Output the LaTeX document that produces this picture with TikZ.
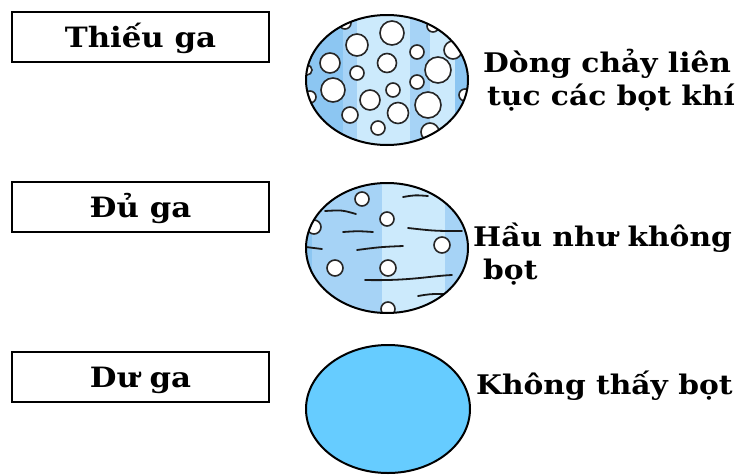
\documentclass[tikz,border=0pt]{standalone}
\usepackage{fontspec}
\newfontfamily\labelfont[FakeStretch=1.1]{DejaVu Serif}
\definecolor{bluedeep}{RGB}{140,198,242}
\definecolor{bluemid}{RGB}{166,211,246}
\definecolor{bluepale}{RGB}{204,234,252}
\definecolor{bluesolid}{RGB}{102,204,255}
\tikzset{
  titlebox/.style={draw=black, line width=2.4pt, fill=white,
    minimum width=257pt, minimum height=50pt, inner sep=0pt,
    text height=21pt, text depth=0pt,
    font=\labelfont\bfseries\fontsize{28}{32}\selectfont},
  caption/.style={font=\labelfont\bfseries\fontsize{27}{33}\selectfont,
    align=left, inner sep=0pt, anchor=west},
  rim/.style={draw=black, line width=2pt},
  bubble/.style={draw=black!85, line width=1.6pt, fill=white},
  streak/.style={draw=black!90, line width=1.8pt, line cap=round}
}
\begin{document}
\begin{tikzpicture}[x=1pt,y=-1pt]
\useasboundingbox (0,0) rectangle (739,474);

% level boxes
\node[titlebox] (thieu) at (140.5,37) {Thiếu ga};
\node[titlebox] (du)    at (140.5,207) {Đủ ga};
\node[titlebox] (duga)  at (140.5,377) {Dư ga};

% sight glass: continuous bubble flow
\begin{scope}
  \clip (387,80) ellipse [x radius=81, y radius=65];
  \fill[bluepale] (300,10) rectangle (475,150);
  \fill[bluedeep] (300,10) rectangle (343,150);
  \fill[bluemid]  (343,10) rectangle (357,150);
  \fill[bluemid]  (410,10) rectangle (430,150);
  \fill[bluedeep] (455,10) rectangle (475,150);
  \foreach \cx/\cy/\r in {392/33/12, 357/45/11, 417/52/7, 330/63/10,
      387/63/9.5, 357/73/7, 438/70/13, 453/50/9, 417/82/7, 393/90/7,
      333/90/12, 370/100/10, 428/105/13, 350/115/8, 398/113/10.5,
      378/128/7, 430/132/9, 310/97/6, 307/70/5, 433/26/6, 345/23/6,
      465/95/6}
    \path[bubble] (\cx,\cy) circle [radius=\r];
\end{scope}
\draw[rim] (387,80) ellipse [x radius=81, y radius=65];

% sight glass: almost no bubbles
\begin{scope}
  \clip (387,248) ellipse [x radius=81, y radius=65];
  \fill[bluepale] (300,180) rectangle (475,320);
  \fill[bluemid]  (300,180) rectangle (382,320);
  \fill[bluedeep] (300,180) rectangle (312,320);
  \fill[bluemid]  (445,180) rectangle (475,320);
  \foreach \cx/\cy/\r in {362/199/7, 387/219/7, 314/227/7, 442/245/8,
      335/268/8, 388/268/8, 388/309/7}
    \path[bubble] (\cx,\cy) circle [radius=\r];
  \path[streak] (403,197) .. controls (415,195) .. (428,196);
  \path[streak] (325,211) .. controls (342,210) .. (356,214);
  \path[streak] (343,232) .. controls (358,231) .. (373,232);
  \path[streak] (408,228) .. controls (435,231) .. (462,231);
  \path[streak] (306,247) .. controls (314,248) .. (322,249);
  \path[streak] (357,250) .. controls (380,247) .. (403,246);
  \path[streak] (365,280) .. controls (410,281) and (430,276) .. (452,275);
  \path[streak] (418,296) .. controls (430,294) .. (444,294);
\end{scope}
\draw[rim] (387,248) ellipse [x radius=81, y radius=65];

% sight glass: full of liquid
\draw[rim, fill=bluesolid] (388,409) ellipse [x radius=82, y radius=64];

% captions
\node[caption] (cap1) at (483,80) {Dòng chảy liên\\\hspace*{4pt}tục các bọt khí};
\node[caption] (cap2) at (473,254) {Hầu như không\\\hspace*{10pt}bọt};
\node[caption] (cap3) at (476,386) {Không thấy bọt};
\end{tikzpicture}
\end{document}
